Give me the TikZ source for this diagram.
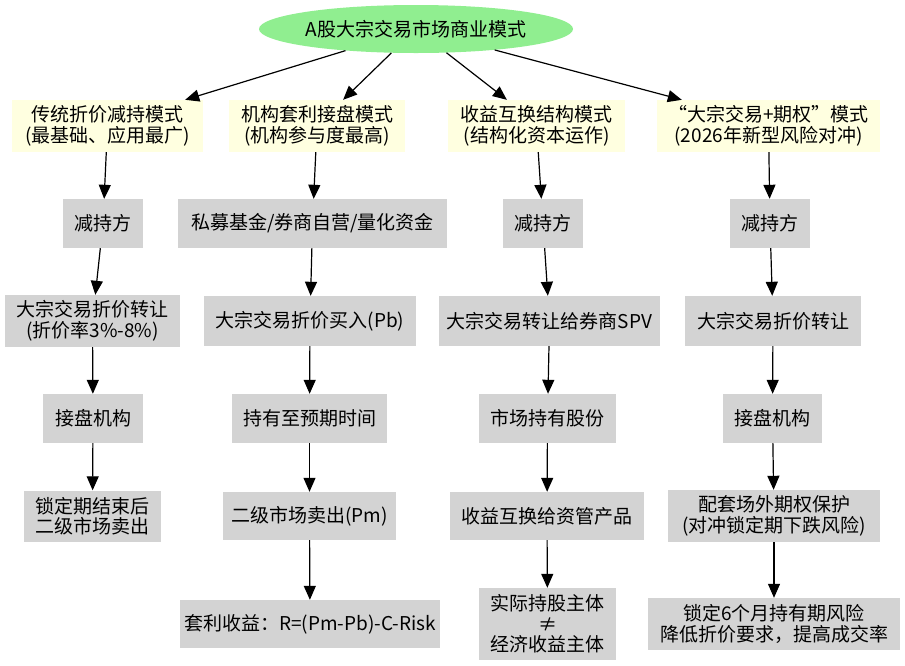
\documentclass[tikz,border=0pt]{standalone}
\usepackage{fontspec}
\setmainfont{Noto Sans CJK SC}
\usetikzlibrary{arrows.meta,shapes.geometric,calc}
\definecolor{ylw}{HTML}{FFFFE0}
\definecolor{gry}{HTML}{D3D3D3}
\definecolor{grn}{HTML}{90EE90}
\begin{document}
\begin{tikzpicture}[x=1pt,y=-1pt,
  box/.style={inner sep=0pt, align=center, font=\fontsize{19}{20.5}\selectfont, text=black},
  ybox/.style={box, fill=ylw},
  gbox/.style={box, fill=gry},
  arr/.style={-{Triangle[length=14pt,width=12pt]}, line width=1.2pt}]
\useasboundingbox (0,0) rectangle (905,665);
% root
\node[ellipse, fill=grn, minimum width=314pt, minimum height=48pt, inner sep=0pt,
      font=\fontsize{19}{20.5}\selectfont] (top) at (416,29) {A股大宗交易市场商业模式};
% row 1
\node[ybox, minimum width=191pt, minimum height=52pt] (b1) at (107.5,126) {传统折价减持模式\\(最基础、应用最广)};
\node[ybox, minimum width=176pt, minimum height=52pt] (b2) at (317,126) {机构套利接盘模式\\(机构参与度最高)};
\node[ybox, minimum width=177pt, minimum height=52pt] (b3) at (536.5,126) {收益互换结构模式\\(结构化资本运作)};
\node[ybox, minimum width=223pt, minimum height=52pt] (b4) at (768.5,126) {“大宗交易+期权”模式\\(2026年新型风险对冲)};
% column 1
\node[gbox, minimum width=80pt, minimum height=49pt] (a2) at (103,223.5) {减持方};
\node[gbox, minimum width=175pt, minimum height=52pt] (a3) at (92.5,321) {大宗交易折价转让\\(折价率3\%-8\%)};
\node[gbox, minimum width=100pt, minimum height=49pt] (a4) at (93,418.5) {接盘机构};
\node[gbox, minimum width=137pt, minimum height=51pt] (a5) at (92.5,516) {锁定期结束后\\二级市场卖出};
% column 2
\node[gbox, minimum width=269pt, minimum height=49pt] (c2) at (312.5,223.5) {私募基金/券商自营/量化资金};
\node[gbox, minimum width=212pt, minimum height=50pt] (c3) at (310,321) {大宗交易折价买入(Pb)};
\node[gbox, minimum width=155pt, minimum height=49pt] (c4) at (309.5,418.5) {持有至预期时间};
\node[gbox, minimum width=173pt, minimum height=48pt] (c5) at (309.5,516) {二级市场卖出(Pm)};
\node[gbox, minimum width=260pt, minimum height=48pt] (c6) at (310,624) {套利收益：R=(Pm-Pb)-C-Risk};
% column 3
\node[gbox, minimum width=80pt, minimum height=49pt] (d2) at (543,223.5) {减持方};
\node[gbox, minimum width=221pt, minimum height=50pt] (d3) at (549.5,321) {大宗交易转让给券商SPV};
\node[gbox, minimum width=137pt, minimum height=49pt] (d4) at (547.5,418.5) {市场持有股份};
\node[gbox, minimum width=194pt, minimum height=48pt] (d5) at (547,516) {收益互换给资管产品};
\node[gbox, minimum width=137pt, minimum height=72pt] (d6) at (547.5,624) {实际持股主体\\≠\\经济收益主体};
% column 4
\node[gbox, minimum width=80pt, minimum height=49pt] (e2) at (770,223.5) {减持方};
\node[gbox, minimum width=176pt, minimum height=50pt] (e3) at (773,321) {大宗交易折价转让};
\node[gbox, minimum width=99pt, minimum height=49pt] (e4) at (772.5,418.5) {接盘机构};
\node[gbox, minimum width=212pt, minimum height=52pt] (e5) at (774,516) {配套场外期权保护\\(对冲锁定期下跌风险)};
\node[gbox, minimum width=252pt, minimum height=52pt] (e6) at (774,624) {锁定6个月持有期风险\\降低折价要求，提高成交率};
% arrow targets on row 1
\coordinate (t1) at ($(b1.north west)!0.906!(b1.north east)$);
\coordinate (t2) at ($(b2.north west)!0.648!(b2.north east)$);
\coordinate (t3) at ($(b3.north west)!0.333!(b3.north east)$);
\coordinate (t4) at ($(b4.north west)!0.112!(b4.north east)$);
\draw[arr] (top) -- (t1);
\draw[arr] (top) -- (t2);
\draw[arr] (top) -- (t3);
\draw[arr] (top) -- (t4);
% vertical chains
\draw[arr] (b1) -- (a2);
\draw[arr] (a2) -- (a3);
\draw[arr] (a3) -- (a4);
\draw[arr] (a4) -- (a5);
\draw[arr] (b2) -- (c2);
\draw[arr] (c2) -- (c3);
\draw[arr] (c3) -- (c4);
\draw[arr] (c4) -- (c5);
\draw[arr] (c5) -- (c6);
\draw[arr] (b3) -- (d2);
\draw[arr] (d2) -- (d3);
\draw[arr] (d3) -- (d4);
\draw[arr] (d4) -- (d5);
\draw[arr] (d5) -- (d6);
\draw[arr] (b4) -- (e2);
\draw[arr] (e2) -- (e3);
\draw[arr] (e3) -- (e4);
\draw[arr] (e4) -- (e5);
\draw[arr] (e5) -- (e6);
\end{tikzpicture}
\end{document}
